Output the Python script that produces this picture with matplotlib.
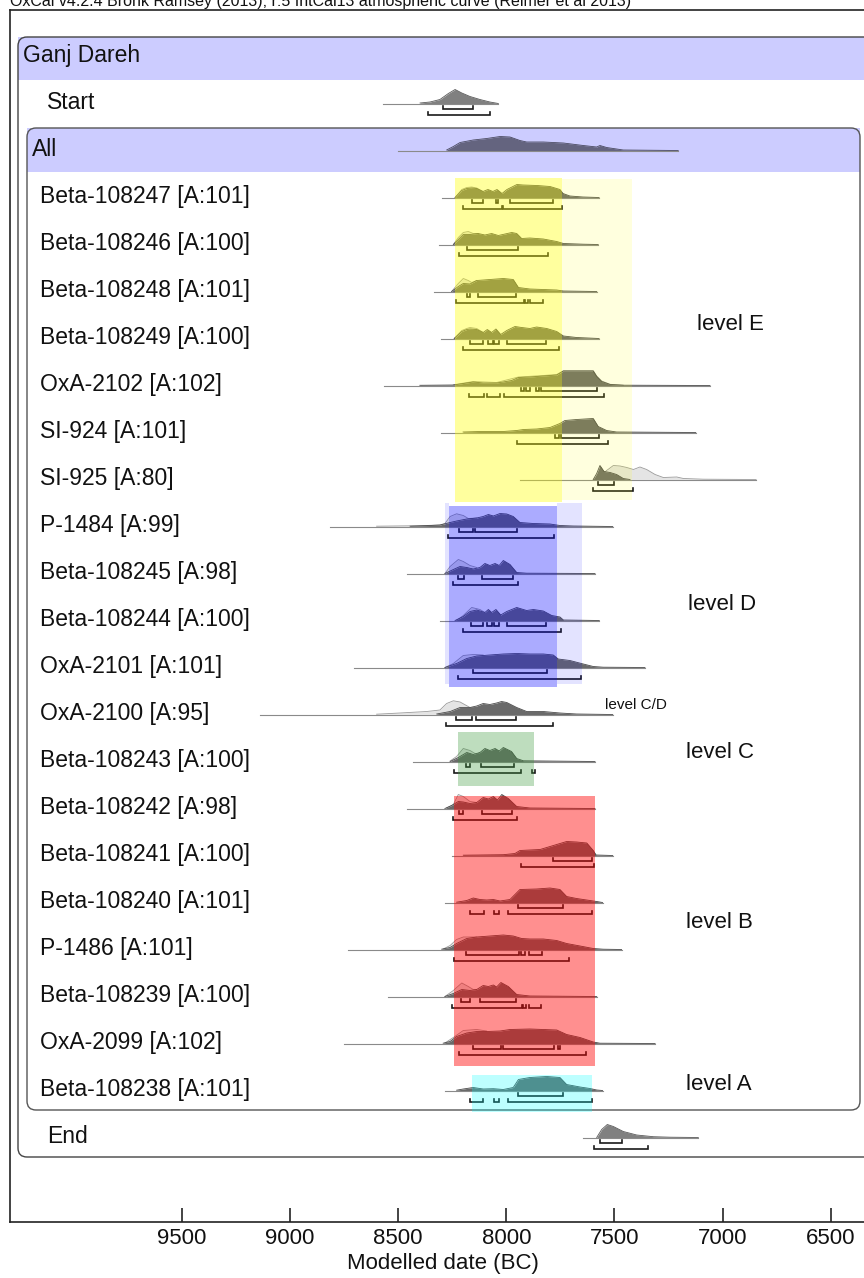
import matplotlib
matplotlib.use('Agg')
import matplotlib.pyplot as plt
from matplotlib.patches import FancyBboxPatch, Rectangle
from matplotlib.transforms import Affine2D
import numpy as np

W, H = 864, 1278

title = 'OxCal v4.2.4 Bronk Ramsey (2013); r:5 IntCal13 atmospheric curve (Reimer et al 2013)'

# one entry per row, top to bottom (row 0 is the sequence header)
names = ['Ganj Dareh', 'Start', 'All',
         'Beta-108247 [A:101]', 'Beta-108246 [A:100]', 'Beta-108248 [A:101]',
         'Beta-108249 [A:100]', 'OxA-2102 [A:102]', 'SI-924 [A:101]', 'SI-925 [A:80]',
         'P-1484 [A:99]', 'Beta-108245 [A:98]', 'Beta-108244 [A:100]', 'OxA-2101 [A:101]',
         'OxA-2100 [A:95]', 'Beta-108243 [A:100]', 'Beta-108242 [A:98]',
         'Beta-108241 [A:100]', 'Beta-108240 [A:101]', 'P-1486 [A:101]',
         'Beta-108239 [A:100]', 'OxA-2099 [A:102]', 'Beta-108238 [A:101]', 'End']

# rows 1..23: extent of the thin tail line (years BC)
spans = [(8569, 8037), (8500, 7205),
         (8299, 7571), (8310, 7575), (8335, 7582), (8302, 7571), (8566, 7058),
         (8304, 7124), (7939, 6845), (8815, 7508), (8461, 7590), (8307, 7570),
         (8705, 7359), (9139, 7508), (8430, 7590), (8461, 7590), (8253, 7508),
         (8284, 7555), (8731, 7467), (8546, 7582), (8751, 7312), (8284, 7555),
         (7644, 7112)]

# posterior (modelled) probability, (year BC, relative prob.)
posterior = [
    [(8399, 0.5), (8353, 1.5), (8307, 4), (8268, 10), (8237, 14), (8206, 10.5), (8168, 7), (8122, 4), (8076, 1.5), (8037, 0)],
    [(8276, 0.5), (8245, 4), (8214, 8), (8153, 10.5), (8091, 12), (8029, 14), (7983, 13.5), (7937, 10), (7906, 8.5), (7829, 8.5),
     (7736, 7.5), (7644, 5), (7582, 3.5), (7567, 5), (7536, 3), (7459, 0.5), (7205, 0)],
    [(8237, 0), (8206, 7), (8183, 9), (8160, 9.5), (8137, 9), (8108, 6), (8085, 8), (8062, 6), (8043, 8), (8020, 4), (7997, 8),
     (7951, 13), (7923, 12.5), (7858, 12), (7798, 11), (7752, 8), (7738, 4), (7706, 1.5), (7646, 0.5), (7571, 0)],
    [(8245, 0), (8222, 5), (8199, 10), (8168, 10), (8130, 11), (8099, 9.5), (8068, 11), (8037, 9), (8006, 10.5), (7975, 12),
     (7952, 11), (7929, 6), (7891, 6.5), (7829, 5.5), (7767, 3), (7736, 1), (7644, 0.3), (7575, 0)],
    [(8253, 0), (8222, 5), (8199, 8), (8168, 7.5), (8137, 11), (8076, 12), (8014, 13), (7968, 12), (7944, 4), (7891, 2.5),
     (7767, 1.5), (7736, 0.5), (7582, 0)],
    [(8241, 0), (8206, 7), (8183, 9), (8168, 9.5), (8137, 9), (8107, 6), (8088, 9), (8068, 6), (8048, 9.5), (8026, 4), (7998, 8),
     (7960, 12), (7929, 11), (7891, 10), (7860, 11.5), (7813, 10), (7767, 7), (7736, 2.5), (7675, 1), (7571, 0)],
    [(8400, 0.2), (8245, 0.5), (8199, 2), (8153, 3.5), (8107, 2.5), (8045, 2.5), (8014, 3.5), (7975, 5), (7944, 8), (7891, 8.5),
     (7829, 9.5), (7767, 10.5), (7736, 14.5), (7598, 14.5), (7582, 9), (7559, 4), (7520, 1), (7459, 0.3), (7058, 0)],
    [(8200, 0.5), (8122, 1), (8014, 1), (7952, 2), (7921, 3), (7860, 3.5), (7798, 5), (7752, 9), (7729, 12), (7675, 13),
     (7598, 14), (7575, 6), (7536, 2), (7490, 0.5), (7124, 0)],
    [(7598, 0), (7582, 6), (7567, 14), (7548, 8), (7520, 7), (7490, 5), (7459, 1), (7428, 0)],
    [(8445, 0.3), (8353, 1), (8307, 1.5), (8260, 4), (8230, 5.5), (8183, 7.5), (8137, 8.5), (8107, 10), (8083, 12), (8060, 10.5),
     (8029, 13), (7998, 12.5), (7968, 10), (7937, 4), (7875, 3), (7798, 2.5), (7752, 1), (7690, 0.5), (7508, 0)],
    [(8284, 0), (8245, 4), (8214, 7), (8183, 6), (8153, 4.5), (8122, 6), (8099, 10), (8076, 8), (8052, 10), (8033, 8),
     (8014, 13), (7983, 9), (7952, 1), (7906, 0.3), (7590, 0)],
    [(8237, 0), (8199, 4), (8168, 9), (8137, 10.5), (8099, 8), (8083, 11), (8068, 8), (8048, 11), (8026, 5.5), (7998, 9),
     (7952, 13), (7906, 10), (7875, 11), (7829, 9.5), (7790, 5), (7752, 3.5), (7736, 0.5), (7570, 0)],
    [(8284, 0), (8230, 4), (8183, 9), (8137, 11.5), (8076, 12.5), (8014, 13.5), (7952, 14), (7891, 13.5), (7829, 13.5),
     (7783, 12.5), (7760, 8.5), (7706, 7), (7644, 3.5), (7598, 1), (7552, 0.3), (7359, 0)],
    [(8322, 0.5), (8260, 3), (8214, 7), (8168, 7), (8137, 8.5), (8107, 11), (8076, 10), (8045, 11.5), (8022, 13), (7998, 12),
     (7952, 7), (7906, 3), (7829, 3), (7752, 1.5), (7675, 0.5), (7508, 0)],
    [(8260, 0), (8222, 4), (8183, 9), (8153, 7), (8122, 9), (8099, 13), (8076, 11), (8052, 13), (8033, 10.5), (8014, 14),
     (7976, 10), (7952, 3), (7921, 0.7), (7590, 0)],
    [(8284, 0), (8253, 3), (8222, 7), (8199, 6.5), (8168, 5), (8137, 6), (8107, 11), (8083, 9.5), (8060, 12), (8041, 8.5),
     (8021, 14), (7991, 10), (7952, 2), (7891, 0.5), (7590, 0)],
    [(8199, 0.3), (8122, 0.5), (8014, 0.8), (7960, 2), (7937, 5), (7891, 5.5), (7844, 6), (7813, 8), (7767, 11), (7721, 14),
     (7675, 13.5), (7628, 12.5), (7598, 5), (7585, 0.5), (7508, 0)],
    [(8230, 0.3), (8183, 2), (8153, 4.5), (8122, 3), (8091, 2.5), (8060, 3), (8029, 1.5), (7983, 3), (7960, 8), (7937, 13),
     (7860, 13.5), (7798, 14.5), (7752, 13), (7721, 6), (7675, 4), (7613, 2), (7582, 1), (7555, 0)],
    [(8299, 0.3), (8260, 2), (8230, 6), (8183, 11), (8137, 12.5), (8076, 13.5), (8014, 14.5), (7968, 13.5), (7929, 11),
     (7891, 10.5), (7829, 10.5), (7767, 9), (7721, 6), (7659, 3.5), (7598, 1), (7552, 0.3), (7467, 0)],
    [(8284, 0), (8245, 3), (8206, 7), (8168, 6), (8137, 7), (8107, 11), (8083, 10), (8060, 11.5), (8045, 9.5), (8025, 14),
     (7991, 10), (7952, 2), (7891, 0.5), (7582, 0)],
    [(8292, 0.3), (8260, 2), (8230, 7), (8183, 10.5), (8137, 12), (8091, 12), (8029, 12.5), (7983, 14), (7891, 14.5),
     (7829, 14), (7767, 13.5), (7721, 9), (7659, 6), (7598, 1.5), (7567, 0.3), (7312, 0)],
    [(8230, 0.3), (8199, 1.5), (8153, 3), (8107, 1.5), (8060, 1.8), (8014, 1), (7968, 3), (7944, 11), (7891, 13), (7813, 14),
     (7752, 13), (7721, 6), (7659, 3.5), (7613, 2), (7582, 0.5), (7555, 0)],
    [(7582, 0), (7559, 8), (7533, 13), (7505, 11), (7459, 6), (7397, 2.5), (7320, 0.8), (7243, 0.3), (7112, 0)],
]

# unmodelled likelihood, only where it shows above the posterior
likelihood = [
    [], [],
    [(8237, 0), (8206, 8), (8183, 10), (8160, 10.5), (8137, 9.5), (8108, 6)],
    [(8245, 0), (8222, 7), (8199, 12), (8176, 13), (8153, 11), (8130, 11)],
    [(8253, 0), (8222, 8), (8199, 13), (8176, 11), (8160, 9), (8137, 11)],
    [(8241, 0), (8206, 8), (8183, 10), (8168, 11), (8137, 10), (8107, 6)],
    [(8245, 0.7), (8153, 4), (8045, 3), (7944, 8.5), (7829, 10), (7767, 11), (7736, 14.8), (7598, 14.8), (7582, 9.5),
     (7559, 4.5), (7520, 1.2), (7459, 0.3)],
    [],
    [(7598, 0), (7567, 3), (7536, 9), (7505, 14), (7474, 13.5), (7443, 12), (7412, 10), (7382, 12.5), (7351, 10), (7312, 5),
     (7274, 2), (7212, 2.5), (7181, 1), (7089, 0.3), (6845, 0)],
    [(8600, 0.3), (8400, 0.8), (8307, 1.5), (8284, 3), (8260, 10), (8230, 12.7), (8199, 11), (8176, 8), (8137, 8.5)],
    [(8284, 0), (8260, 7), (8222, 14), (8199, 12), (8168, 8), (8137, 6)],
    [(8230, 0), (8199, 5), (8160, 13), (8122, 11), (8099, 8)],
    [(8284, 0), (8245, 4), (8199, 12), (8153, 13), (8107, 12.5)],
    [(8600, 0.3), (8492, 1.5), (8368, 3), (8307, 4.5), (8276, 11), (8245, 13.7), (8214, 12.5), (8168, 7), (8137, 7)],
    [(8260, 0.5), (8230, 5), (8199, 13), (8168, 11), (8137, 7), (8122, 9)],
    [(8276, 0.5), (8245, 4), (8222, 14), (8199, 12), (8168, 7), (8137, 6)],
    [],
    [],
    [(8292, 0.5), (8260, 4), (8230, 10), (8199, 12.5), (8153, 12.5), (8137, 12.5)],
    [(8284, 0), (8245, 6), (8206, 13.5), (8176, 10), (8153, 7), (8137, 7)],
    [(8284, 0.5), (8245, 6), (8199, 13), (8137, 14), (8091, 12.5)],
    [],
    [],
]

# highest posterior density ranges (years BC)
range68 = [
    [(8292, 8156)], [],
    [(8160, 8107), (8050, 8040), (7983, 7786)],
    [(8180, 7945)],
    [(8181, 8166), (8133, 7957)],
    [(8168, 8107), (8086, 8063), (8056, 8033), (7995, 7817)],
    [(7934, 7916), (7909, 7891), (7863, 7847), (7841, 7582)],
    [(7775, 7755), (7747, 7570)],
    [(7578, 7502)],
    [(8218, 8156), (8145, 7952)],
    [(8222, 8196), (8111, 7968)],
    [(8165, 8107), (8088, 8068), (8057, 8033), (7995, 7817)],
    [(8152, 7813)],
    [(8234, 8160), (8140, 7955)],
    [(8188, 8168), (8119, 7965)],
    [(8218, 8199), (8111, 7972)],
    [(7786, 7603)],
    [(7945, 7740)],
    [(8187, 7940), (7931, 7912), (7894, 7835)],
    [(8209, 8168), (8122, 7957)],
    [(8156, 8026), (8017, 7780), (7761, 7752)],
    [(7945, 7740)],
    [(7567, 7464)],
]
range95 = [
    [(8360, 8076)], [],
    [(8199, 8021), (8017, 7741)],
    [(8218, 7806)],
    [(8233, 7920), (7912, 7898), (7892, 7832)],
    [(8202, 7755)],
    [(8171, 8103), (8088, 8029), (8009, 7548)],
    [(7952, 7528)],
    [(7601, 7413)],
    [(8270, 7778)],
    [(8245, 7948)],
    [(8199, 7749)],
    [(8223, 7653)],
    [(8280, 7783)],
    [(8244, 7934), (7883, 7868)],
    [(8245, 7949)],
    [(7934, 7594)],
    [(8168, 8103), (8056, 8036), (7991, 7606)],
    [(8244, 7709)],
    [(8249, 7929), (7925, 7911), (7894, 7840)],
    [(8218, 7632)],
    [(8168, 8107), (8056, 8036), (7991, 7606)],
    [(7594, 7346)],
]

# phase boxes: year from, year to, colour, alpha, pixel top/bottom
level_from = [8237, 7741, 8264, 8284, 7764, 8223, 8240, 8157]
level_to = [7741, 7420, 7764, 8264, 7651, 7872, 7590, 7604]
level_col = ['#ffff00', '#ffff00', '#0000ff', '#0000ff', '#0000ff', '#3a9a3a', '#ff0000', '#00ffff']
level_alpha = [0.38, 0.13, 0.33, 0.11, 0.11, 0.33, 0.44, 0.26]
level_top = [178, 179, 506, 503, 503, 732, 796, 1075]
level_bot = [502, 500, 687, 684, 684, 786, 1066, 1112]

level_text = ['level E', 'level D', 'level C/D', 'level C', 'level B', 'level A']
level_xy = [(697, 325), (688, 604), (605, 705), (686, 752), (686, 922), (686, 1085)]
level_size = [16, 16, 11, 16, 16, 16]

xticks = [9500, 9000, 8500, 8000, 7500, 7000, 6500]

AX_BOTTOM = 1222   # pixel row of the date axis


def px2yr(p):
    return 9500 - (p - 182) * 4.625


fig = plt.figure(figsize=(W / 100, H / 100), dpi=100)
ax = fig.add_axes([10 / W, (H - AX_BOTTOM) / H, 854 / W, (AX_BOTTOM - 10) / H])
pxT = Affine2D().scale(1 / W, -1 / H).translate(0, 1) + fig.transFigure

FONT = ['Liberation Sans', 'DejaVu Sans']
NARROW = ['Liberation Sans Narrow', 'Liberation Sans', 'DejaVu Sans']

# sequence box and phase box
def add_box(x, y, w, h, band_h, edge):
    fill = FancyBboxPatch((x, y), w, h, boxstyle='round,pad=0,rounding_size=9', transform=pxT,
                          fc='white', lw=0, zorder=0.5, clip_on=False)
    ax.add_patch(fill)
    band = Rectangle((x, y), w, band_h, transform=pxT, fc='#ccccff', lw=0, zorder=0.6, clip_on=False)
    ax.add_patch(band)
    band.set_clip_path(fill)
    ax.add_patch(FancyBboxPatch((x, y), w, h, boxstyle='round,pad=0,rounding_size=9', transform=pxT,
                                fc='none', ec=edge, lw=1.0, zorder=0.7, clip_on=False))

add_box(18, 37, 880, 1120, 43, '#444444')
add_box(27, 128, 833, 982, 44, '#555555')

for i, row in enumerate(range(1, 24)):
    yb = 56.5 + 47 * row
    if row in (1, 23):
        face, edge = '#808080', '#5a5a5a'
    elif row == 2:
        face, edge = '#64647f', '#4a4a60'
    else:
        face, edge = '#6a6a6a', '#4a4a4a'
    a, b = spans[i]
    ax.plot([a, b], [yb, yb], color='#8a8a8a', lw=0.8, zorder=2)
    if likelihood[i]:
        lx = np.array([p[0] for p in likelihood[i]])
        ly = np.array([p[1] for p in likelihood[i]])
        ax.fill_between(lx, yb, yb - ly, color='#e4e4e4', lw=0, zorder=2.1)
        ax.plot(lx, yb - ly, color='#9a9a9a', lw=0.6, zorder=2.1)
    px_ = np.array([p[0] for p in posterior[i]])
    py_ = np.array([p[1] for p in posterior[i]])
    ax.fill_between(px_, yb, yb - py_, color=face, lw=0, zorder=2.2)
    ax.plot(px_, yb - py_, color=edge, lw=0.6, zorder=2.2)
    for (r0, r1) in range68[i]:
        y = yb + 5
        ax.plot([r0, r0, r1, r1], [y - 3, y, y, y - 3], color='#1a1a1a', lw=1.2, zorder=2.5,
                solid_joinstyle='miter')
    for (r0, r1) in range95[i]:
        y = yb + 11
        ax.plot([r0, r0, r1, r1], [y - 3, y, y, y - 3], color='#1a1a1a', lw=1.2, zorder=2.5,
                solid_joinstyle='miter')

for k in range(len(level_from)):
    ax.add_patch(Rectangle((level_from[k], level_top[k]), level_to[k] - level_from[k],
                           level_bot[k] - level_top[k], fc=level_col[k], alpha=level_alpha[k],
                           lw=0, zorder=3))

# row labels
for row, name in enumerate(names):
    yb = 56.5 + 47 * row
    if row == 0:
        x = 23
    elif row == 2:
        x = 32
    elif row in (1, 23):
        x = 47
    else:
        x = 40
    ax.text(x, yb + 5.5, name, transform=pxT, fontsize=16.5, family=FONT, va='baseline',
            ha='left', color='#111111', zorder=5)

for t, (x, y), s in zip(level_text, level_xy, level_size):
    ax.text(x, y, t, transform=pxT, fontsize=s, family=FONT, va='center', ha='left',
            color='#111111', zorder=5)

fig.text(10 / W, 1 - 6 / H, title, fontsize=11.5, family=FONT, va='baseline', ha='left', color='#111111')

ax.set_xlim(px2yr(10), px2yr(864))
ax.set_ylim(AX_BOTTOM, 10)
ax.set_xticks(xticks)
ax.set_xticklabels([str(t) for t in xticks])
ax.set_yticks([])
ax.tick_params(axis='x', direction='in', length=10, width=1.1, pad=4, labelsize=16, colors='#111111')
for lab in ax.get_xticklabels():
    lab.set_family(NARROW)
ax.text(443, 1269, 'Modelled date (BC)', transform=pxT, fontsize=16, family=NARROW,
        ha='center', va='baseline', color='#111111', clip_on=False)
ax.spines['right'].set_visible(False)
for s in ('top', 'left', 'bottom'):
    ax.spines[s].set_linewidth(1.2)
    ax.spines[s].set_color('#222222')

fig.savefig('out.png', dpi=100)
